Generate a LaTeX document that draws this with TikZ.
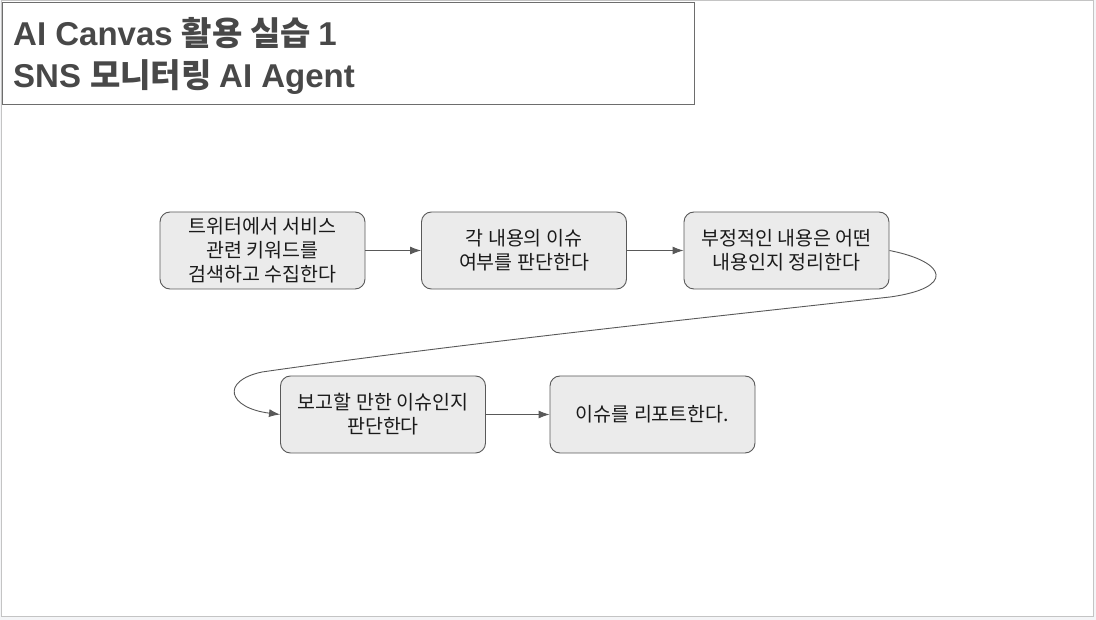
\documentclass[tikz,border=0pt]{standalone}
\usepackage{fontspec}
\setmainfont{Noto Sans CJK KR}
\newfontfamily\kr{Noto Sans CJK KR}
\newfontfamily\lat{Liberation Sans}
\usetikzlibrary{arrows.meta}
\definecolor{boxfill}{HTML}{EBEBEB}
\definecolor{boxline}{HTML}{595959}
\definecolor{txt}{HTML}{1A1A1A}
\definecolor{ttl}{HTML}{484848}
\definecolor{pageline}{HTML}{C4C4C4}
\definecolor{outside}{HTML}{F4F5F7}
\tikzset{
  stepbox/.style={draw=boxline, fill=boxfill, line width=0.9pt, rounded corners=10pt,
    minimum width=205pt, minimum height=77pt, align=center, text=txt,
    font=\fontsize{19.5}{24}\selectfont, inner sep=0pt},
  flow/.style={draw=boxline, line width=0.9pt, -{Latex[length=11pt,width=8pt]}}
}
\begin{document}
\begin{tikzpicture}[x=1pt,y=-1pt]
\useasboundingbox (0,0) rectangle (1096,620);
\fill[outside] (0,0) rectangle (1096,620);
\draw[pageline, fill=white, line width=1pt] (1,1) rectangle (1093,616);
\draw[ttl!80, fill=white, line width=1pt] (2,3) rectangle (694,105);
\node[anchor=base west, text=ttl, inner sep=0pt, font=\fontsize{33}{42}\selectfont\bfseries] (t1) at (13,46) {\lat AI Canvas \kr 활용 실습 \lat 1};
\node[anchor=base west, text=ttl, inner sep=0pt, font=\fontsize{33}{42}\selectfont\bfseries] (t2) at (13,88) {\lat SNS \kr 모니터링 \lat AI Agent};

\node[stepbox] (b1) at (262.5,250.5) {트위터에서 서비스\\관련 키워드를\\검색하고 수집한다};
\node[stepbox] (b2) at (524,250.5) {각 내용의 이슈\\여부를 판단한다};
\node[stepbox] (b3) at (786.5,250.5) {부정적인 내용은 어떤\\내용인지 정리한다};
\node[stepbox] (b4) at (383,414.5) {보고할 만한 이슈인지\\판단한다};
\node[stepbox] (b5) at (652.5,414.5) {이슈를 리포트한다.};

\draw[flow] (b1) -- (b2);
\draw[flow] (b2) -- (b3);
\draw[flow] (b4) -- (b5);
\coordinate (m1) at (890,297);
\coordinate (m2) at (262,372);
\draw[flow] (b3.east) .. controls (948,262) and (955,288) .. (m1)
  .. controls (700,318) and (450,345) .. (m2)
  .. controls (220,381) and (228,408) .. (b4.west);
\end{tikzpicture}
\end{document}
